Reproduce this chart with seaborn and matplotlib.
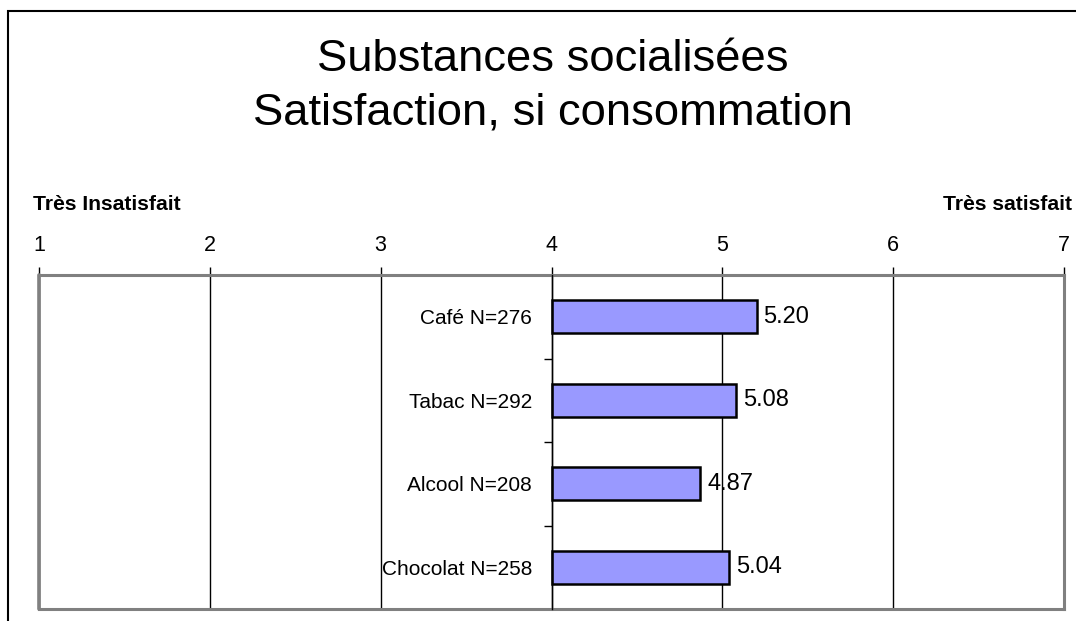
import matplotlib
matplotlib.use("Agg")
import matplotlib.pyplot as plt
import seaborn as sns
import pandas as pd
from matplotlib.patches import Rectangle
from matplotlib.ticker import FixedLocator, FuncFormatter

categories = ["Café N=276", "Tabac N=292", "Alcool N=208", "Chocolat N=258"]
scores = [5.20, 5.08, 4.87, 5.04]
scale_ticks = [1, 2, 3, 4, 5, 6, 7]
midpoint = 4
low_label = "Très Insatisfait"
high_label = "Très satisfait"
title = "Substances socialisées\nSatisfaction, si consommation"

sns.set_theme(style="white")
plt.rcParams["font.family"] = ["Liberation Sans", "DejaVu Sans"]

df = pd.DataFrame({"cat": categories, "score": scores})
df["dev"] = df["score"] - midpoint

W, H = 1076, 621
fig = plt.figure(figsize=(W / 100, H / 100), dpi=100)
ax = fig.add_axes([39 / W, 1 - 609 / H, (1064 - 39) / W, (609 - 275) / H])

sns.barplot(data=df, x="dev", y="cat", orient="h", color="#9999FF",
            saturation=1, width=0.4, edgecolor="black", linewidth=1.8, ax=ax, zorder=3)

ax.set_xlim(scale_ticks[0] - midpoint, scale_ticks[-1] - midpoint)
ax.set_ylim(len(categories) - 0.5, -0.5)
ax.set_xlabel("")
ax.set_ylabel("")

# x axis on top
ax.xaxis.set_major_locator(FixedLocator([t - midpoint for t in scale_ticks]))
ax.xaxis.set_major_formatter(FuncFormatter(lambda v, p: f"{v + midpoint:.0f}"))
ax.xaxis.tick_top()
ax.tick_params(axis="x", which="major", top=True, bottom=False, length=6, width=1,
               color="black", direction="out", pad=8, labelsize=15.5, labelcolor="black")
ax.xaxis.grid(True, color="black", linewidth=1)
ax.set_axisbelow(True)

# central axis at midpoint
ax.spines["left"].set_position(("data", 0))
ax.spines["left"].set_color("black")
ax.spines["left"].set_linewidth(1)
ax.spines["left"].set_zorder(4)
for s in ["top", "right", "bottom"]:
    ax.spines[s].set_visible(True)
    ax.spines[s].set_color("#808080")
    ax.spines[s].set_linewidth(2.2)
ax.axvline(scale_ticks[0] - midpoint, color="#808080", linewidth=2.6, zorder=5, clip_on=False)

ax.yaxis.set_minor_locator(FixedLocator([i + 0.5 for i in range(len(categories))]))
ax.tick_params(axis="y", which="major", left=True, length=0, pad=14, labelsize=15,
               labelcolor="black")
ax.tick_params(axis="y", which="minor", left=True, length=6, width=1, color="black",
               direction="out")

ax.bar_label(ax.containers[0], labels=[f"{v:.2f}" for v in scores], padding=5,
             fontsize=17, color="black")

fig.text(33 / W, 1 - 205 / H, low_label, ha="left", va="center", fontsize=15.2,
         fontweight="bold", color="black")
fig.text(1072 / W, 1 - 205 / H, high_label, ha="right", va="center", fontsize=15.2,
         fontweight="bold", color="black")

fig.text(553 / W, 1 - 86 / H, title, ha="center", va="center", fontsize=32.7,
         linespacing=1.38, color="black")

fig.patches.append(Rectangle((8 / W, -0.5), 2, 1 - 11 / H + 0.5, transform=fig.transFigure,
                             fill=False, edgecolor="black", linewidth=1.5))

fig.savefig("out.png", dpi=100)
